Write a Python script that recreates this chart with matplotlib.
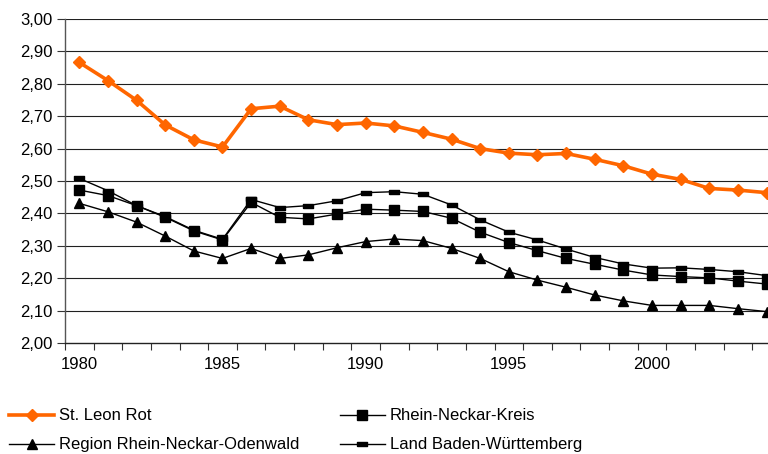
import matplotlib
matplotlib.use("Agg")
import matplotlib.pyplot as plt
from matplotlib.ticker import FuncFormatter, FixedLocator

plt.rcParams['font.family'] = ['Liberation Sans', 'DejaVu Sans']

years = list(range(1980, 2005))
st_leon_rot = [2.866, 2.810, 2.749, 2.673, 2.627, 2.605, 2.723, 2.731, 2.689, 2.674,
               2.679, 2.670, 2.650, 2.629, 2.600, 2.586, 2.581, 2.585, 2.567, 2.547,
               2.521, 2.505, 2.477, 2.472, 2.464]
rhein_neckar_kreis = [2.472, 2.455, 2.424, 2.388, 2.346, 2.318, 2.434, 2.388, 2.383, 2.398,
                      2.413, 2.410, 2.406, 2.385, 2.342, 2.310, 2.285, 2.261, 2.243, 2.225,
                      2.210, 2.205, 2.201, 2.191, 2.182]
region_rno = [2.431, 2.405, 2.373, 2.330, 2.284, 2.261, 2.292, 2.261, 2.272, 2.294,
              2.313, 2.321, 2.316, 2.292, 2.261, 2.220, 2.194, 2.172, 2.148, 2.130,
              2.116, 2.116, 2.116, 2.106, 2.097]
land_bw = [2.508, 2.470, 2.424, 2.390, 2.348, 2.320, 2.443, 2.418, 2.424, 2.439,
           2.464, 2.467, 2.459, 2.426, 2.380, 2.342, 2.318, 2.290, 2.264, 2.244,
           2.231, 2.232, 2.227, 2.220, 2.208]
labels = ["St. Leon Rot", "Rhein-Neckar-Kreis", "Region Rhein-Neckar-Odenwald",
          "Land Baden-Württemberg"]
year_labels = ["1980", "1985", "1990", "1995", "2000"]
yticks = [2.0, 2.1, 2.2, 2.3, 2.4, 2.5, 2.6, 2.7, 2.8, 2.9, 3.0]

fig = plt.figure(figsize=(7.68, 4.54), dpi=100)
ax = fig.add_axes([65/768, 1-343/454, 1-65/768, (343-19)/454])

x = list(range(len(years)))
dash = [(-1, -0.4), (1, -0.4), (1, 0.4), (-1, 0.4), (-1, -0.4)]

l1, = ax.plot(x, st_leon_rot, color='#FF6600', lw=2.6, marker='D', ms=6,
              mec='#FF6600', mfc='#FF6600', zorder=5)
l2, = ax.plot(x, rhein_neckar_kreis, color='black', lw=1.0, marker='s', ms=7, zorder=4)
l3, = ax.plot(x, region_rno, color='black', lw=1.0, marker='^', ms=7.5, zorder=4)
l4, = ax.plot(x, land_bw, color='black', lw=1.0, marker=dash, ms=7.5, zorder=4)

ax.set_xlim(-0.5, 24.05)
ax.set_ylim(2.0, 3.0)
ax.set_yticks(yticks)
ax.yaxis.set_major_formatter(FuncFormatter(lambda v, p: f"{v:.2f}".replace('.', ',')))
for v in yticks[1:]:
    ax.axhline(v, color='#202020', lw=0.8, zorder=1)

ax.xaxis.set_major_locator(FixedLocator([i - 0.5 for i in range(len(years) + 1)]))
ax.set_xticklabels([])
ax.set_xticks([0, 5, 10, 15, 20], minor=True)
ax.set_xticklabels(year_labels, minor=True)
ax.tick_params(axis='x', which='minor', length=0, pad=10, labelsize=12)
ax.tick_params(axis='x', which='major', length=5, width=0.8, direction='out', color='#333333')
ax.tick_params(axis='y', length=6, width=0.8, direction='out', pad=3, labelsize=12,
               color='#333333')

for s in ['top', 'right']:
    ax.spines[s].set_visible(False)
ax.spines['left'].set_color('#555555')
ax.spines['bottom'].set_color('#222222')
ax.spines['left'].set_linewidth(1.0)
ax.spines['bottom'].set_linewidth(1.0)

fig.legend([l1, l3, l2, l4], [labels[0], labels[2], labels[1], labels[3]],
           ncol=2, loc='upper left', bbox_to_anchor=(6/768, 1 - 405/454),
           frameon=False, fontsize=12, handlelength=2.7, handletextpad=0.3,
           columnspacing=2.4, labelspacing=0.85, borderaxespad=0, borderpad=0.2)

fig.savefig("out.png", dpi=100)
